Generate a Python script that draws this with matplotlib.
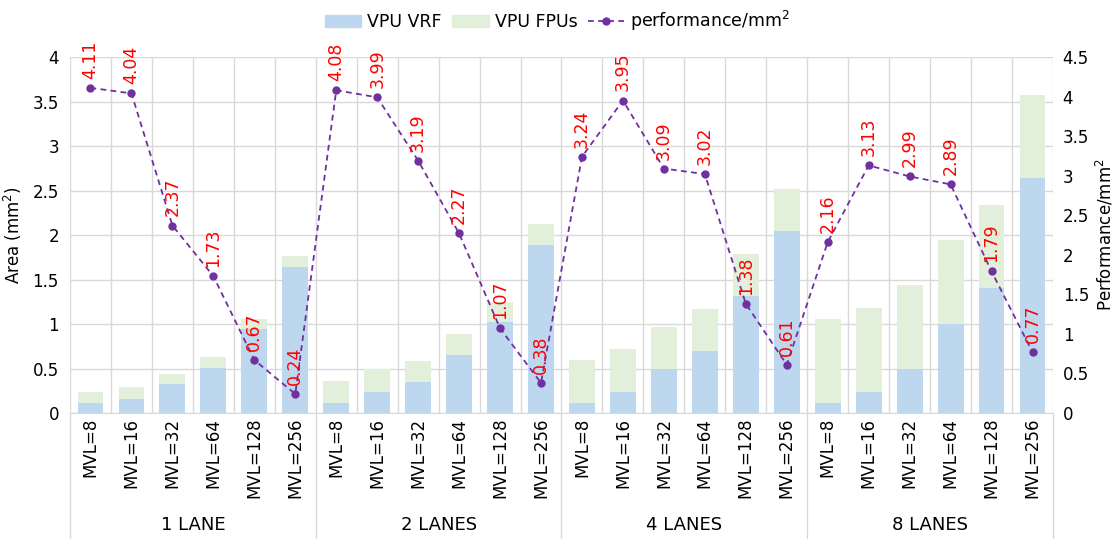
import numpy as np
import matplotlib
matplotlib.use("Agg")
import matplotlib.pyplot as plt
from matplotlib.patches import Patch
from matplotlib.lines import Line2D
from matplotlib.ticker import FuncFormatter
import matplotlib.transforms as mtransforms

plt.rcParams['font.family'] = ['DejaVu Sans']
plt.rcParams['mathtext.fontset'] = 'dejavusans'

groups = ["1 LANE", "2 LANES", "4 LANES", "8 LANES"]
mvl_labels = ["MVL=8", "MVL=16", "MVL=32", "MVL=64", "MVL=128", "MVL=256"]

vrf_area = [0.11, 0.16, 0.325, 0.51, 0.94, 1.64,
            0.11, 0.24, 0.35, 0.65, 1.02, 1.885,
            0.11, 0.24, 0.50, 0.70, 1.32, 2.05,
            0.11, 0.24, 0.50, 1.00, 1.40, 2.635]
total_area = [0.235, 0.295, 0.44, 0.63, 1.056, 1.76,
              0.36, 0.49, 0.58, 0.89, 1.25, 2.12,
              0.59, 0.72, 0.97, 1.17, 1.79, 2.52,
              1.056, 1.18, 1.44, 1.94, 2.34, 3.576]
performance = [4.11, 4.04, 2.37, 1.73, 0.67, 0.24,
               4.08, 3.99, 3.19, 2.27, 1.07, 0.38,
               3.24, 3.95, 3.09, 3.02, 1.38, 0.61,
               2.16, 3.13, 2.99, 2.89, 1.79, 0.77]

fpu_area = [t - v for t, v in zip(total_area, vrf_area)]
n = len(vrf_area)
x = np.arange(n)

c_vrf = "#BDD7EE"
c_fpu = "#E2EFDA"
c_line = "#7030A0"
c_grid = "#D9D9D9"
fs = 12
dash = (0, (3.2, 2.4))

fig = plt.figure(figsize=(11.15, 5.39), dpi=100)
ax = fig.add_axes([70/1115, 1-413/539, (1053-70)/1115, (413-57)/539])
ax2 = ax.twinx()

ax.bar(x, vrf_area, width=0.63, color=c_vrf, zorder=2)
ax.bar(x, fpu_area, bottom=vrf_area, width=0.63, color=c_fpu, zorder=2)

ax.set_xlim(-0.5, n - 0.5)
ax.set_ylim(0, 4)
ax.set_yticks(np.arange(0, 4.01, 0.5))
ax2.set_ylim(0, 4.5)
ax2.set_yticks(np.arange(0, 4.51, 0.5))
fmt = FuncFormatter(lambda v, p: "%g" % v)
ax.yaxis.set_major_formatter(fmt)
ax2.yaxis.set_major_formatter(fmt)

ax.set_axisbelow(True)
ax.yaxis.grid(True, color=c_grid, linewidth=1, zorder=0)
for b in np.arange(-0.5, n, 1.0):
    ax.axvline(b, color=c_grid, linewidth=1, zorder=0)

ax.set_xticks(x)
ax.set_xticklabels(mvl_labels * len(groups), rotation=90, fontsize=fs)
ax.tick_params(axis='x', length=0, pad=3.5)
ax.tick_params(axis='y', length=0, labelsize=fs, pad=8)
ax2.tick_params(axis='y', length=0, labelsize=fs, pad=7)

for a in (ax, ax2):
    for s in a.spines.values():
        s.set_visible(False)
ax.spines['bottom'].set_visible(True)
ax.spines['bottom'].set_color(c_grid)

ax2.plot(x, performance, color=c_line, linestyle=dash, linewidth=1.3,
         marker='o', markersize=5, zorder=5)
for xi, p in zip(x, performance):
    ax2.annotate("%.2f" % p, (xi, p), xytext=(0, 6.5), textcoords='offset points',
                 rotation=90, ha='center', va='bottom', color='#FF0000',
                 fontsize=12.5, zorder=6)

ax.set_ylabel("Area (mm$^2$)", fontsize=fs, labelpad=6)
ax2.set_ylabel("Performance/mm$^2$", fontsize=fs, labelpad=4)

# group separators and labels
trans = mtransforms.blended_transform_factory(ax.transData, ax.transAxes)
gsize = len(mvl_labels)
for k in range(len(groups) + 1):
    bx = -0.5 + k * gsize
    ax.add_line(Line2D([bx, bx], [0, -0.36], transform=trans, color=c_grid,
                       linewidth=1, clip_on=False))
for k, g in enumerate(groups):
    cx = -0.5 + k * gsize + gsize / 2
    ax.text(cx, -0.315, g, transform=trans, ha='center', va='center', fontsize=13)

handles = [Patch(color=c_vrf, label="VPU VRF"),
           Patch(color=c_fpu, label="VPU FPUs"),
           Line2D([], [], color=c_line, linestyle=dash, linewidth=1.3,
                  marker='o', markersize=5, label="performance/mm$^2$")]
fig.legend(handles=handles, loc='upper center', bbox_to_anchor=(0.5, 1.012), ncol=3,
           frameon=False, fontsize=12.5, handlelength=2.1, columnspacing=0.6,
           handletextpad=0.35)

fig.savefig("out.png", dpi=100)
